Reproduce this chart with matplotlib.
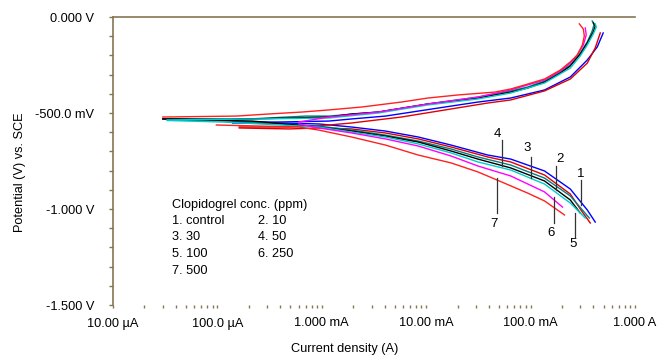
import matplotlib
matplotlib.use("Agg")
import matplotlib.pyplot as plt
from matplotlib.ticker import FixedLocator, FixedFormatter, NullFormatter
import numpy as np

plt.rcParams['font.family'] = ['Liberation Sans', 'DejaVu Sans']

# ---------------- data (current density in A, potential in V vs SCE) ----------------
# Curve 1: control (blue)
c1_cath_i = [1.4e-4, 3.89e-4, 9.36e-4, 1.93e-3, 4.07e-3, 8.39e-3, 1.73e-2, 3.89e-2, 6.45e-2, 0.136, 0.240, 0.349, 0.416]
c1_cath_e = [-0.552, -0.552, -0.557, -0.573, -0.594, -0.625, -0.667, -0.719, -0.740, -0.802, -0.896, -1.005, -1.068]
c1_anod_i = [1.4e-4, 3.89e-4, 1.17e-3, 1.93e-3, 4.07e-3, 8.39e-3, 1.73e-2, 3.13e-2, 6.45e-2, 0.136, 0.240, 0.349, 0.435, 0.496]
c1_anod_e = [-0.547, -0.547, -0.542, -0.531, -0.516, -0.490, -0.464, -0.443, -0.422, -0.380, -0.3125, -0.224, -0.156, -0.083]

# Curve 2: 10 ppm (red)
c2_cath_i = [1.62e-4, 4.85e-4, 9.36e-4, 1.93e-3, 4.07e-3, 8.39e-3, 1.73e-2, 3.89e-2, 6.45e-2, 0.136, 0.240, 0.313, 0.373]
c2_cath_e = [-0.578, -0.583, -0.578, -0.583, -0.604, -0.635, -0.677, -0.729, -0.755, -0.823, -0.922, -1.016, -1.073]
c2_anod_i = [1.62e-4, 4.85e-4, 1.17e-3, 1.93e-3, 5.78e-3, 1.73e-2, 3.89e-2, 6.45e-2, 0.136, 0.240, 0.349, 0.416, 0.465]
c2_anod_e = [-0.573, -0.573, -0.5625, -0.552, -0.521, -0.479, -0.448, -0.432, -0.385, -0.323, -0.240, -0.161, -0.083]

# Curve 3: 30 ppm (teal)
c3_cath_i = [3.5e-5, 1.3e-4, 9.36e-4, 1.93e-3, 4.07e-3, 8.39e-3, 1.73e-2, 3.13e-2, 6.45e-2, 0.136, 0.240, 0.365]
c3_cath_e = [-0.536, -0.542, -0.568, -0.589, -0.615, -0.646, -0.6875, -0.729, -0.771, -0.839, -0.932, -1.047]
c3_anod_i = [3.5e-5, 2.02e-4, 7.05e-4, 1.17e-3, 3.49e-3, 1.04e-2, 3.13e-2, 6.45e-2, 9.36e-2, 0.136, 0.193, 0.240, 0.299, 0.349, 0.389, 0.407, 0.389]
c3_anod_e = [-0.531, -0.531, -0.516, -0.516, -0.495, -0.453, -0.417, -0.385, -0.365, -0.333, -0.286, -0.250, -0.188, -0.130, -0.073, -0.036, -0.021]

# Curve 4: 50 ppm (black)
c4_cath_i = [3.0e-5, 2.16e-4, 9.36e-4, 1.93e-3, 4.07e-3, 8.39e-3, 1.73e-2, 3.13e-2, 6.45e-2, 0.136, 0.240, 0.299]
c4_cath_e = [-0.531, -0.542, -0.573, -0.594, -0.620, -0.651, -0.698, -0.740, -0.786, -0.854, -0.953, -1.021]
c4_anod_i = [3.0e-5, 1.3e-4, 1.17e-3, 1.93e-3, 3.49e-3, 1.04e-2, 3.13e-2, 6.45e-2, 9.36e-2, 0.136, 0.193, 0.240, 0.299, 0.349, 0.398, 0.416, 0.398]
c4_anod_e = [-0.531, -0.534, -0.521, -0.505, -0.495, -0.453, -0.422, -0.391, -0.370, -0.339, -0.292, -0.255, -0.193, -0.135, -0.078, -0.047, -0.031]

# Curve 5: 100 ppm (cyan)
c5_cath_i = [3.3e-5, 1.12e-4, 9.36e-4, 1.93e-3, 4.07e-3, 8.39e-3, 1.73e-2, 3.13e-2, 6.45e-2, 0.136, 0.240, 0.334]
c5_cath_e = [-0.539, -0.547, -0.573, -0.599, -0.625, -0.661, -0.708, -0.755, -0.797, -0.870, -0.969, -1.047]
c5_anod_i = [3.3e-5, 2.51e-4, 1.17e-3, 3.49e-3, 1.04e-2, 3.13e-2, 6.45e-2, 0.136, 0.240, 0.299, 0.349, 0.398, 0.426, 0.416]
c5_anod_e = [-0.536, -0.531, -0.526, -0.500, -0.458, -0.427, -0.396, -0.344, -0.266, -0.203, -0.146, -0.089, -0.052, -0.036]

# Curve 6: 250 ppm (magenta)
c6_cath_i = [6.04e-4, 9.36e-4, 1.93e-3, 4.07e-3, 8.39e-3, 1.73e-2, 3.13e-2, 6.45e-2, 0.136, 0.202]
c6_cath_e = [-0.557, -0.578, -0.604, -0.635, -0.672, -0.724, -0.776, -0.828, -0.911, -0.990]
c6_anod_i = [6.04e-4, 1.17e-3, 3.49e-3, 1.04e-2, 3.13e-2, 6.45e-2, 0.136, 0.193, 0.240, 0.280, 0.320, 0.341, 0.334]
c6_anod_e = [-0.547, -0.521, -0.495, -0.453, -0.417, -0.380, -0.328, -0.281, -0.240, -0.198, -0.146, -0.094, -0.057]

# Curve 7: 500 ppm (red)
c7_cath_i = [9.77e-5, 2.51e-4, 6.04e-4, 9.36e-4, 1.93e-3, 4.07e-3, 8.39e-3, 1.73e-2, 3.13e-2, 4.54e-2, 9.36e-2, 0.136, 0.211]
c7_cath_e = [-0.5625, -0.568, -0.573, -0.589, -0.625, -0.667, -0.719, -0.760, -0.807, -0.844, -0.917, -0.958, -1.031]
c7_anod_i = [3.0e-5, 1.52e-4, 3.13e-4, 6.45e-4, 1.17e-3, 2.40e-3, 5.78e-3, 1.04e-2, 2.02e-2, 4.54e-2, 6.45e-2, 8.77e-2, 0.136, 0.193, 0.240, 0.280, 0.313, 0.327, 0.320, 0.293]
c7_anod_e = [-0.521, -0.516, -0.505, -0.495, -0.484, -0.469, -0.443, -0.422, -0.406, -0.391, -0.375, -0.354, -0.323, -0.276, -0.234, -0.198, -0.146, -0.099, -0.0625, -0.036]

curve_numbers = ["1", "2", "3", "4", "5", "6", "7"]
legend_title = "Clopidogrel conc. (ppm)"
legend_entries = ["1. control", "2. 10", "3. 30", "4. 50", "5. 100", "6. 250", "7. 500"]

y_ticks = [0.0, -0.5, -1.0, -1.5]
y_tick_labels = ["0.000 V", "-500.0 mV", "-1.000 V", "-1.500 V"]
x_ticks = [1e-5, 1e-4, 1e-3, 1e-2, 1e-1, 1.0]
x_tick_labels = ["10.00 \u00b5A", "100.0 \u00b5A", "1.000 mA", "10.00 mA", "100.0 mA", "1.000 A"]

# ---------------- styling ----------------
colors = ["#0000ff", "#e00000", "#008080", "#000000", "#00cccc", "#ff00ff", "#ff2020"]
axis_color = "#857553"
fs = 9.2
AX_L, AX_R, AX_T, AX_B = 113, 635, 17, 305

fig = plt.figure(figsize=(6.58, 3.56), dpi=100)
ax = fig.add_axes([AX_L / 658, 1 - AX_B / 356, (AX_R - AX_L) / 658, (AX_B - AX_T) / 356])
ax.set_xscale("log")
ax.set_xlim(1e-5, 1.0)
ax.set_ylim(-1.5, 0.0)

curves = [
    (c1_cath_i, c1_cath_e, c1_anod_i, c1_anod_e),
    (c2_cath_i, c2_cath_e, c2_anod_i, c2_anod_e),
    (c3_cath_i, c3_cath_e, c3_anod_i, c3_anod_e),
    (c4_cath_i, c4_cath_e, c4_anod_i, c4_anod_e),
    (c5_cath_i, c5_cath_e, c5_anod_i, c5_anod_e),
    (c6_cath_i, c6_cath_e, c6_anod_i, c6_anod_e),
    (c7_cath_i, c7_cath_e, c7_anod_i, c7_anod_e),
]
for (ci, ce, ai, ae), col in zip(curves, colors):
    ax.plot(ci, ce, color=col, lw=1.0, solid_joinstyle="round")
    ax.plot(ai, ae, color=col, lw=1.0, solid_joinstyle="round")

# spines
for s in ["right", "bottom"]:
    ax.spines[s].set_visible(False)
for s in ["left", "top"]:
    ax.spines[s].set_color(axis_color)
    ax.spines[s].set_linewidth(1.2)

# y ticks
ax.yaxis.set_major_locator(FixedLocator(y_ticks))
ax.yaxis.set_major_formatter(FixedFormatter(y_tick_labels))
ax.yaxis.set_minor_locator(FixedLocator(list(np.arange(-1.4, 0.0, 0.1))))
ax.tick_params(axis="y", which="both", direction="out", length=3.2, width=1.0,
               color=axis_color, pad=10.5, labelsize=fs)
# x ticks
ax.xaxis.set_major_locator(FixedLocator(x_ticks))
ax.xaxis.set_major_formatter(FixedFormatter(x_tick_labels))
minor = [m * 10.0 ** d for d in range(-5, 0) for m in range(2, 10)]
ax.xaxis.set_minor_locator(FixedLocator(minor))
ax.xaxis.set_minor_formatter(NullFormatter())
ax.tick_params(axis="x", which="both", direction="out", length=2.5, width=1.0,
               color=axis_color, pad=6.5, labelsize=fs)

# axis labels
fig.text(345 / 658, 1 - 349 / 356, "Current density (A)", ha="center", va="center", fontsize=fs)
fig.text(20 / 658, 1 - 172 / 356, "Potential (V) vs. SCE", ha="center", va="center",
         rotation=90, fontsize=fs)

# legend text block
tx = ax.transAxes
def ax_xy(px, py):
    return ((px - AX_L) / (AX_R - AX_L), (AX_B - py) / (AX_B - AX_T))

ax.text(*ax_xy(172, 205), legend_title, transform=tx, fontsize=fs, va="center", ha="left")
rows_y = [221, 237, 254, 271]
col_x = [172, 258]
for k, entry in enumerate(legend_entries):
    r, c = divmod(k, 2)
    ax.text(*ax_xy(col_x[c], rows_y[r]), entry, transform=tx, fontsize=fs, va="center", ha="left")

# curve number call-outs (label position, leader line start/end) in data coordinates
callouts = [
    ("1", (0.299, -0.818), (0.306, -0.849), (0.306, -0.979)),
    ("2", (0.193, -0.740), (0.177, -0.776), (0.177, -0.901)),
    ("3", (0.0935, -0.682), (0.102, -0.729), (0.102, -0.839)),
    ("4", (0.0485, -0.609), (0.053, -0.641), (0.053, -0.776)),
    ("5", (0.257, -1.182), (0.268, -1.146), (0.268, -1.021)),
    ("6", (0.158, -1.125), (0.169, -1.073), (0.169, -0.9375)),
    ("7", (0.0445, -1.078), (0.0475, -1.021), (0.0475, -0.839)),
]
for lab, (lx, ly), (x0, y0), (x1, y1) in callouts:
    ax.plot([x0, x1], [y0, y1], color="#333333", lw=0.9)
    ax.text(lx, ly, lab, fontsize=fs + 0.3, ha="center", va="center")

fig.savefig("out.png", dpi=100)
